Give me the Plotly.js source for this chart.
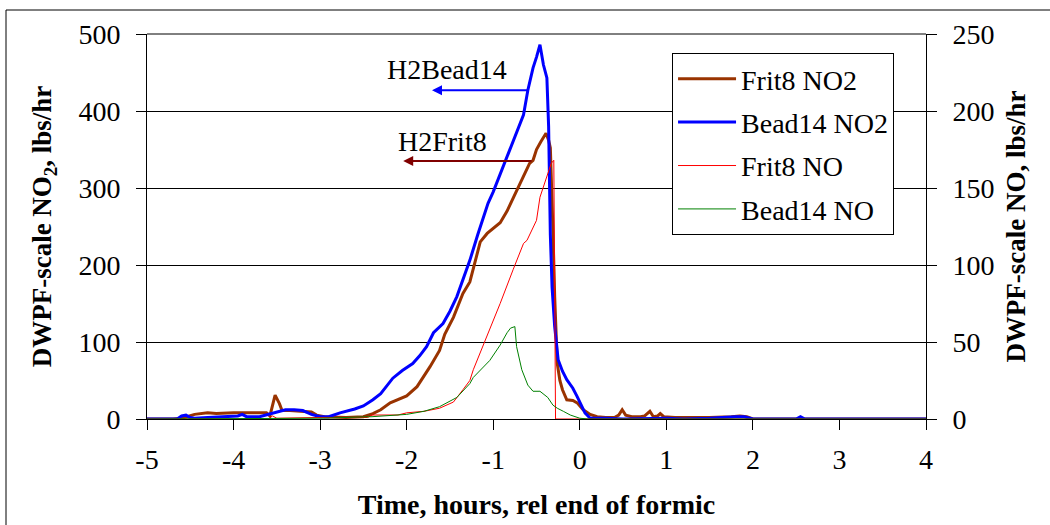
<!DOCTYPE html>
<html>
<head>
<meta charset="utf-8">
<script src="https://cdn.plot.ly/plotly-3.0.1.min.js"></script>
<style>html,body{margin:0;padding:0;background:#fff;}#chart{width:1050px;height:525px;}</style>
</head>
<body>
<div id="chart"></div>
<script>
// Frit8 NO2 (left axis, lbs/hr)
const frit8NO2_t = [-5,-4.7,-4.6,-4.5,-4.45,-4.3,-4.2,-4.0,-3.8,-3.62,-3.58,-3.52,-3.47,-3.44,-3.35,-3.2,-3.1,-3.04,-2.95,-2.7,-2.5,-2.39,-2.3,-2.19,-2.1,-2.0,-1.88,-1.8,-1.73,-1.62,-1.56,-1.46,-1.35,-1.27,-1.23,-1.15,-1.07,-1.0,-0.92,-0.84,-0.77,-0.69,-0.62,-0.58,-0.54,-0.5,-0.45,-0.42,-0.39,-0.36,-0.34,-0.31,-0.29,-0.26,-0.23,-0.2,-0.15,-0.08,-0.03,0.04,0.12,0.2,0.3,0.4,0.45,0.49,0.53,0.6,0.7,0.75,0.81,0.85,0.9,0.93,0.97,1.1,1.5,1.75,1.85,1.93,2.0,2.5,3,4];
const frit8NO2_v = [0,0,1,4,6,8,7,8,8,8,4,31,20,11,11,10,9,5,3,2,3,7,12,21,25,30,42,55,68,89,110,132,163,178,195,230,241,248,255,270,287,306,322,332,336,350,360,366,371,362,352,245,159,72,50,38,25,24,21,12,6,3,2,2,5,12,5,3,3,4,10,3,4,7,3,2,2,3,4,3,0,0,0,0];

// Bead14 NO2 (left axis, lbs/hr)
const bead14NO2_t = [-5,-4.65,-4.6,-4.55,-4.5,-4.45,-4.3,-4.1,-3.95,-3.9,-3.85,-3.7,-3.6,-3.5,-3.4,-3.3,-3.2,-3.1,-3.0,-2.9,-2.77,-2.6,-2.5,-2.39,-2.3,-2.16,-2.05,-1.93,-1.85,-1.77,-1.69,-1.58,-1.5,-1.42,-1.35,-1.27,-1.18,-1.12,-1.06,-1.0,-0.89,-0.77,-0.65,-0.6,-0.54,-0.5,-0.46,-0.42,-0.38,-0.36,-0.34,-0.32,-0.29,-0.25,-0.2,-0.15,-0.08,-0.03,0.02,0.06,0.12,0.3,0.5,0.8,1.0,1.2,1.5,1.8,1.9,2.0,2.5,2.55,2.6,3,4];
const bead14NO2_v = [0,0,4,5,2,1,2,3,4,6,3,3,6,10,12,12,11,6,3,3,8,13,17,25,33,53,63,72,82,94,112,124,140,159,180,206,239,261,280,295,326,360,395,427,456,470,486,460,443,380,239,171,120,77,62,51,40,29,18,8,1,1,0,1,1,0,1,3,3,0,0,3,0,0,0];

// Frit8 NO (right axis, lbs/hr)
const frit8NO_t = [-5,-3.6,-3.55,-3.5,-3.0,-2.45,-2.4,-2.1,-2.0,-1.8,-1.62,-1.46,-1.35,-1.27,-1.23,-1.12,-1.0,-0.92,-0.77,-0.65,-0.61,-0.5,-0.46,-0.38,-0.33,-0.3,-0.28,0,4];
const frit8NO_v = [0,0,2,0.5,1,1,2.6,2.6,4,5,7,11,19,25,32,47,64,75,97,114,116,129,144,157,166,168,0,0,0];

// Bead14 NO (right axis, lbs/hr)
const bead14NO_t = [-5,-3.0,-2.4,-2.0,-1.8,-1.62,-1.42,-1.27,-1.23,-1.04,-0.92,-0.84,-0.8,-0.75,-0.73,-0.67,-0.6,-0.54,-0.46,-0.37,-0.31,-0.26,-0.19,-0.11,0,0.1,4];
const bead14NO_v = [0,0.5,1.5,3,5,8,14,23,27,38,48,56,59,60,47,32,22,18,18,14,9,7,5,2.6,0.5,0,0];

const seriesNames = ['Frit8 NO2','Bead14 NO2','Frit8 NO','Bead14 NO'];
const xTickVals = [-5,-4,-3,-2,-1,0,1,2,3,4];
const xTickText = ['-5','-4','-3','-2','-1','0','1','2','3','4'];
const yLeftTicks = [0,100,200,300,400,500];
const yRightTicks = [0,50,100,150,200,250];
const annotTexts = ['H2Bead14','H2Frit8'];

const FONT = 'Liberation Serif';
const FS = 28;

const traces = [
  {x: frit8NO2_t, y: frit8NO2_v, name: seriesNames[0], type:'scatter', mode:'lines', line:{color:'#993300', width:3}, legendgroup:'a'},
  {x: bead14NO2_t, y: bead14NO2_v, name: seriesNames[1], type:'scatter', mode:'lines', line:{color:'#0000FF', width:3}, legendgroup:'b'},
  {x: frit8NO_t, y: frit8NO_v, name: seriesNames[2], type:'scatter', mode:'lines', yaxis:'y2', line:{color:'#FF0000', width:1}, legendgroup:'c'},
  {x: bead14NO_t, y: bead14NO_v, name: seriesNames[3], type:'scatter', mode:'lines', yaxis:'y2', line:{color:'#008000', width:1}, legendgroup:'d'}
];

const layout = {
  width:1050, height:525,
  margin:{l:147, r:124, t:34, b:106, autoexpand:false},
  paper_bgcolor:'#fff', plot_bgcolor:'#fff',
  font:{family:FONT, size:FS, color:'#000'},
  showlegend:true,
  legend:{x:0.674, y:0.9506, xanchor:'left', yanchor:'top', bgcolor:'#fff', bordercolor:'#000', borderwidth:1,
          font:{family:FONT, size:FS, color:'#000'}, traceorder:'grouped', tracegroupgap:4, itemwidth:58},
  xaxis:{range:[-5,4], tickvals:xTickVals, ticktext:xTickText, ticks:'outside', ticklen:10, tickcolor:'#000', showline:true, linecolor:'#000', linewidth:1,
         showgrid:false, zeroline:false, tickfont:{family:FONT, size:FS}, ticklabelstandoff:5,
         title:{text:'<b>Time, hours, rel end of formic</b>', font:{family:FONT, size:FS}, standoff:20}},
  yaxis:{range:[0,500], tickvals:yLeftTicks, ticks:'outside', ticklen:10, tickcolor:'#000', showline:true, linecolor:'#000', linewidth:1,
         showgrid:true, gridcolor:'#000', gridwidth:1, zeroline:false, tickfont:{family:FONT, size:FS}, ticklabelstandoff:10,
         title:{text:'<b>DWPF-scale NO<sub>2</sub>, lbs/hr</b>', font:{family:FONT, size:FS-1}, standoff:18}},
  yaxis2:{range:[0,250], tickvals:yRightTicks, overlaying:'y', side:'right', ticks:'outside', ticklen:10, tickcolor:'#000',
          showline:true, linecolor:'#000', linewidth:1, showgrid:false, zeroline:false, tickfont:{family:FONT, size:FS}, ticklabelstandoff:10,
          title:{text:'<b>DWPF-scale NO, lbs/hr</b>', font:{family:FONT, size:FS-1}, standoff:12}},
  shapes:[
    {type:'line', xref:'paper', yref:'paper', x0:0, x1:1, y0:1, y1:1, line:{color:'#000', width:1}},
    {type:'rect', xref:'paper', yref:'paper', x0:-0.181, x1:1.172, y0:-0.301, y1:1.0623, line:{color:'#000', width:1}, layer:'below'}
  ],
  annotations:[
    {x:-1.53, y:454.5, xref:'x', yref:'y', text:annotTexts[0], showarrow:false, font:{family:FONT, size:FS, color:'#000'}},
    {x:-1.59, y:360, xref:'x', yref:'y', text:annotTexts[1], showarrow:false, font:{family:FONT, size:FS, color:'#000'}},
    {x:-1.707, y:427, ax:-0.575, ay:427, xref:'x', yref:'y', axref:'x', ayref:'y', text:'', showarrow:true, arrowhead:2, arrowsize:1, arrowwidth:2, arrowcolor:'#0000FF'},
    {x:-2.04, y:335, ax:-0.54, ay:335, xref:'x', yref:'y', axref:'x', ayref:'y', text:'', showarrow:true, arrowhead:2, arrowsize:1, arrowwidth:2, arrowcolor:'#800000'}
  ]
};

Plotly.newPlot('chart', traces, layout, {displayModeBar:false, staticPlot:true});
</script>
</body>
</html>
